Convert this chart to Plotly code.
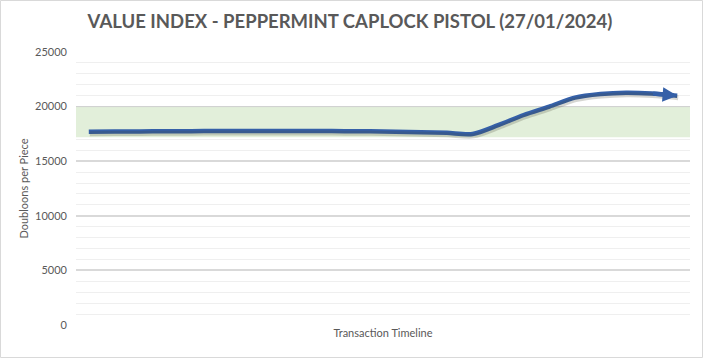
import plotly.graph_objects as go

# Data
periods = list(range(24))
values = [17700, 17720, 17730, 17750, 17750, 17760, 17760, 17760, 17760, 17760,
          17750, 17740, 17700, 17650, 17600, 17500, 18300, 19230, 20000, 20820,
          21150, 21270, 21200, 21000]
band_low = 17200
band_high = 20000
y_ticks = [0, 5000, 10000, 15000, 20000, 25000]

title = "VALUE INDEX - PEPPERMINT CAPLOCK PISTOL (27/01/2024)"
y_title = "Doubloons per Piece"
x_title = "Transaction Timeline"

W, H = 704, 359
L, R, T, B = 76, 14, 52, 34
pw, ph = W - L - R, H - T - B

xr = [-0.5, len(periods) - 0.5]
yr = [0, 25000]
# shadow offset (pixels) expressed via overlaid axes
sx, sy = 1.0, 2.0
dx = sx / pw * (xr[1] - xr[0])
dy = sy / ph * (yr[1] - yr[0])

LINE_COLOR = "#3560a8"

fig = go.Figure()
# green band
fig.add_trace(go.Scatter(x=xr, y=[band_low, band_low], mode="lines",
                         line=dict(width=0, color="rgba(0,0,0,0)"),
                         hoverinfo="skip", showlegend=False))
fig.add_trace(go.Scatter(x=xr, y=[band_high, band_high], mode="lines",
                         line=dict(width=1, color="#d0d0d0"),
                         fill="tonexty", fillcolor="#e2efda",
                         hoverinfo="skip", showlegend=False))
# shadow
fig.add_trace(go.Scatter(x=periods, y=values, mode="lines", xaxis="x2", yaxis="y2",
                         line=dict(color="rgba(70,70,50,0.22)", width=5, shape="spline", smoothing=0.8),
                         hoverinfo="skip", showlegend=False))
# main line
fig.add_trace(go.Scatter(
    x=periods, y=values, mode="lines",
    line=dict(color=LINE_COLOR, width=4.5, shape="spline", smoothing=0.8),
    showlegend=False))

# arrow head at the end of the line
fig.add_annotation(x=periods[-1], y=values[-1], ax=periods[-2], ay=values[-2],
                   xref="x", yref="y", axref="x", ayref="y",
                   text="", showarrow=True, arrowhead=2, arrowsize=0.65,
                   arrowwidth=4.5, arrowcolor=LINE_COLOR, standoff=0)

fig.update_layout(
    width=W, height=H,
    margin=dict(l=L, r=R, t=T, b=B),
    paper_bgcolor="white", plot_bgcolor="white",
    title=dict(text="<b>" + title + "</b>", x=350 / W, xanchor="center",
               y=1 - 22 / H, yanchor="middle",
               font=dict(family="Lato", size=18.5, color="#595959")),
    font=dict(family="Lato", color="#595959", size=11),
    xaxis=dict(range=xr, showticklabels=False, showgrid=False, zeroline=False,
               ticks="", showline=False,
               title=dict(text=x_title, standoff=4,
                          font=dict(size=11, color="#595959"))),
    xaxis2=dict(range=[xr[0] - dx, xr[1] - dx], overlaying="x", visible=False),
    yaxis=dict(range=yr, tickvals=y_ticks, ticktext=[str(v) for v in y_ticks],
               showgrid=True, gridcolor="#d9d9d9", gridwidth=2,
               zeroline=False, showline=False, ticks="",
               ticklabelstandoff=8,
               tickfont=dict(size=11, color="#595959"),
               minor=dict(dtick=1000, showgrid=True, gridcolor="#efefef", gridwidth=1),
               title=dict(text=y_title, standoff=4,
                          font=dict(size=11, color="#595959"))),
    yaxis2=dict(range=[yr[0] + dy, yr[1] + dy], overlaying="y", visible=False),
    shapes=[dict(type="rect", xref="paper", yref="paper",
                 x0=(0.5 - L) / pw, x1=(W - 1.5 - L) / pw,
                 y0=(H - B - (H - 1.5)) / ph, y1=(H - B - 0.5) / ph,
                 line=dict(color="#d9d9d9", width=1), fillcolor="rgba(0,0,0,0)")],
)

fig.write_html("out.html")
